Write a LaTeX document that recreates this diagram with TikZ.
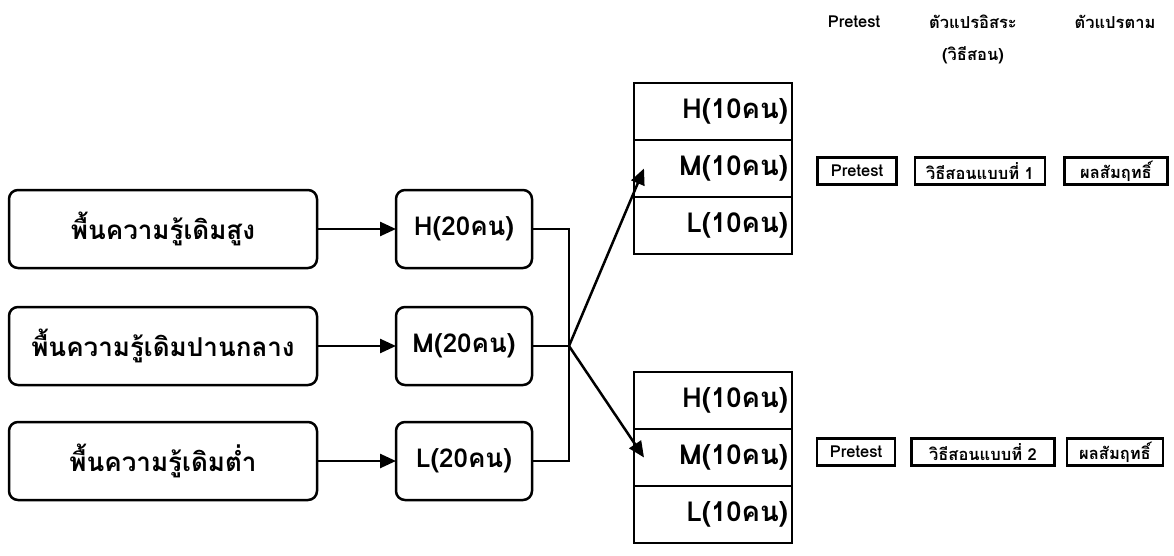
\documentclass[tikz,border=0pt]{standalone}
\usepackage{fontspec}
\newfontfamily\thaifont[Script=Thai]{Loma}
\usetikzlibrary{positioning,arrows.meta}
\tikzset{
  groupbox/.style = {draw, line width=2.5pt, rounded corners=9pt, minimum height=78pt, inner sep=0pt, outer sep=0pt, font=\fontsize{26}{30}\selectfont\thaifont\bfseries},
  lobox/.style    = {groupbox, minimum width=308pt},
  midbox/.style   = {groupbox, minimum width=136pt},
  rowbox/.style   = {draw, line width=2.5pt, text width=150pt, align=right, minimum height=57pt, inner xsep=4pt, inner ysep=0pt, outer sep=0pt, font=\fontsize{27.5}{30}\selectfont\thaifont\bfseries},
  tagbox/.style   = {draw, line width=2.2pt, minimum height=27pt, inner sep=0pt, font=\fontsize{16.5}{18}\selectfont\thaifont\bfseries},
  head/.style     = {font=\fontsize{16.5}{18}\selectfont\thaifont\bfseries, inner sep=0pt},
  wire/.style     = {draw, line width=2.5pt},
  flow/.style     = {-{Triangle[length=16pt,width=14pt]}, line width=2.5pt},
}
\begin{document}
\begin{tikzpicture}[x=1pt,y=-1pt]
\path[use as bounding box] (0,0) rectangle (1174,556);

% ---- prior knowledge groups ---------------------------------------------
\node[lobox] (hi) at (163,229) {พื้นความรู้เดิมสูง};
\node[lobox] (md) at (163,346) {พื้นความรู้เดิมปานกลาง};
\node[lobox] (lo) at (163,461) {พื้นความรู้เดิมต่ำ};

\node[midbox] (hiN) at (464,229) {H(20คน)};
\node[midbox] (mdN) at (464,346) {M(20คน)};
\node[midbox] (loN) at (464,461) {L(20คน)};

\draw[flow] (hi) -- (hiN);
\draw[flow] (md) -- (mdN);
\draw[flow] (lo) -- (loN);

% ---- they are split in two ----------------------------------------------
\coordinate (jn) at (569,346);
\draw[wire] (hiN.east) -| (jn) |- (loN.east);
\draw[wire] (mdN.east) -- (jn);

\node[rowbox, anchor=north west] (aH) at (634,83) {H(10คน)};
\node[rowbox, below=0pt of aH] (aM) {M(10คน)};
\node[rowbox, below=0pt of aM] (aL) {L(10คน)};

\node[rowbox, anchor=north west] (bH) at (634,372) {H(10คน)};
\node[rowbox, below=0pt of bH] (bM) {M(10คน)};
\node[rowbox, below=0pt of bM] (bL) {L(10คน)};

\draw[flow] (jn) -- ([xshift=10pt]aM.west);
\draw[flow] (jn) -- ([xshift=10pt]bM.west);

% ---- design headings ----------------------------------------------------
\node[head] (hPre) at (854,22) {Pretest};
\node[head] (hInd) at (973,22) {ตัวแปรอิสระ};
\node[head] (hWay) at (973,55) {(วิธีสอน)};
\node[head] (hDep) at (1115,22) {ตัวแปรตาม};

\node[tagbox, minimum width=79pt]  (pre1) at (857,171) {Pretest};
\node[tagbox, minimum width=130pt] (way1) at (980,171) {วิธีสอนแบบที่ 1};
\node[tagbox, minimum width=103pt] (res1) at (1116,171) {ผลสัมฤทธิ์};

\node[tagbox, minimum width=78pt]  (pre2) at (856,452) {Pretest};
\node[tagbox, minimum width=143pt] (way2) at (983,452) {วิธีสอนแบบที่ 2};
\node[tagbox, minimum width=96pt]  (res2) at (1115,452) {ผลสัมฤทธิ์};

\end{tikzpicture}
\end{document}
